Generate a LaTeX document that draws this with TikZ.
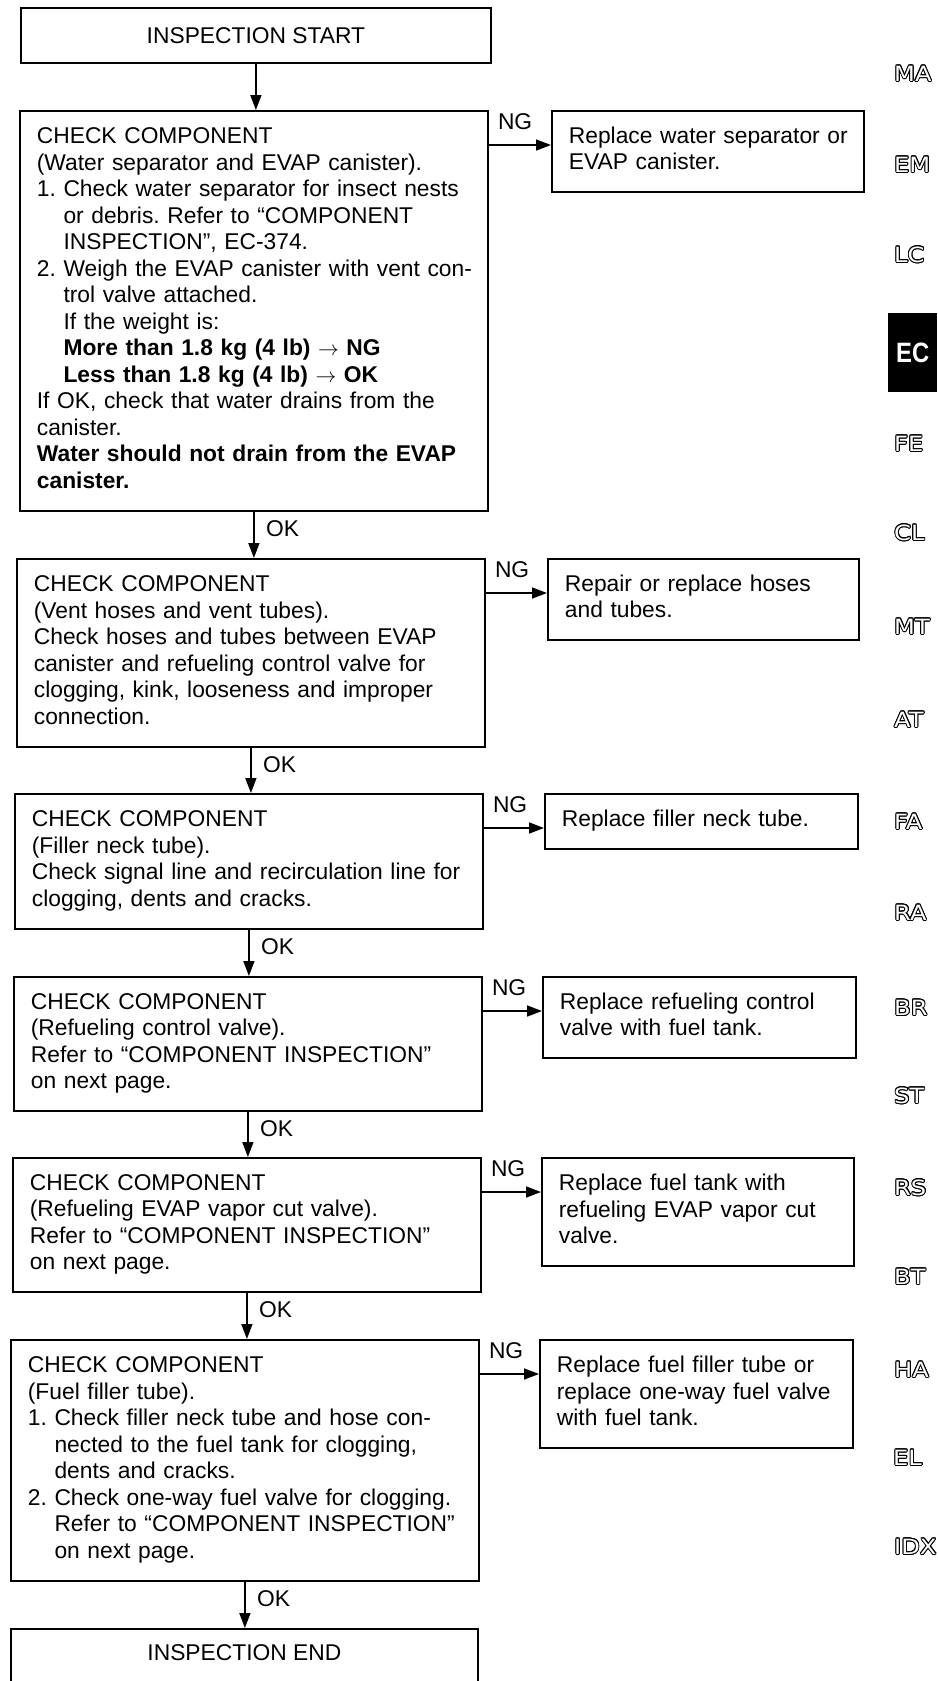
\documentclass[tikz,border=0pt]{standalone}
\usepackage{fontspec}
\setmainfont{Liberation Sans}
\newfontfamily\sidefont{DejaVu Sans}
\usepackage{contour}
\contourlength{0.9pt}
\usetikzlibrary{arrows.meta}
\frenchspacing
\newcommand\bxfont{\fontsize{22.8}{26.5}\selectfont\parindent=0pt\frenchspacing}
\newcommand\sd[1]{{\color{white}\contour{black}{\scalebox{1.15}[1]{#1}}}}
\begin{document}
\begin{tikzpicture}[x=1pt,y=-1pt,
  box/.style={draw, line width=1.8pt, inner xsep=17pt, inner ysep=0pt, anchor=north west, align=left, font=\bxfont},
  arr/.style={line width=1.6pt, -{Triangle[length=15pt,width=11pt]}},
  lbl/.style={font=\bxfont, inner sep=0pt, anchor=base west},
  side/.style={font=\sidefont\fontsize{21}{24}\selectfont, anchor=west, inner sep=0pt},
]
\useasboundingbox (0,0) rectangle (937,1681);

% start
\node[draw, line width=1.8pt, minimum width=470pt, minimum height=55pt, anchor=north west, inner sep=0pt, font=\bxfont] (s) at (20,7) {INSPECTION START};

% main boxes
\node[box, text width=434pt, minimum height=400pt] (b1) at (19,110) {\begin{tabular}{@{}l@{}}
CHECK COMPONENT\\
(Water separator and EVAP canister).\\
1. Check water separator for insect nests\\
\hphantom{1.}\ or debris. Refer to “COMPONENT\\
\hphantom{1.}\ INSPECTION”, EC-374.\\
2. Weigh the EVAP canister with vent con-\\
\hphantom{2.}\ trol valve attached.\\
\hphantom{2.}\ If the weight is:\\
\hphantom{2.}\ \textbf{More than 1.8 kg (4 lb) $\rightarrow$ NG}\\
\hphantom{2.}\ \textbf{Less than 1.8 kg (4 lb) $\rightarrow$ OK}\\
If OK, check that water drains from the\\
canister.\\
\textbf{Water should not drain from the EVAP}\\
\textbf{canister.}
\end{tabular}};

\node[box, text width=434pt, minimum height=188pt] (b2) at (16,558) {\begin{tabular}{@{}l@{}}
CHECK COMPONENT\\
(Vent hoses and vent tubes).\\
Check hoses and tubes between EVAP\\
canister and refueling control valve for\\
clogging, kink, looseness and improper\\
connection.
\end{tabular}};

\node[box, text width=434pt, minimum height=135pt] (b3) at (14,793) {\begin{tabular}{@{}l@{}}
CHECK COMPONENT\\
(Filler neck tube).\\
Check signal line and recirculation line for\\
clogging, dents and cracks.
\end{tabular}};

\node[box, text width=434pt, minimum height=134pt] (b4) at (13,976) {\begin{tabular}{@{}l@{}}
CHECK COMPONENT\\
(Refueling control valve).\\
Refer to “COMPONENT INSPECTION”\\
on next page.
\end{tabular}};

\node[box, text width=434pt, minimum height=134pt] (b5) at (12,1157) {\begin{tabular}{@{}l@{}}
CHECK COMPONENT\\
(Refueling EVAP vapor cut valve).\\
Refer to “COMPONENT INSPECTION”\\
on next page.
\end{tabular}};

\node[box, text width=434pt, minimum height=241pt] (b6) at (10,1339) {\begin{tabular}{@{}l@{}}
CHECK COMPONENT\\
(Fuel filler tube).\\
1. Check filler neck tube and hose con-\\
\hphantom{1.}\ nected to the fuel tank for clogging,\\
\hphantom{1.}\ dents and cracks.\\
2. Check one-way fuel valve for clogging.\\
\hphantom{2.}\ Refer to “COMPONENT INSPECTION”\\
\hphantom{2.}\ on next page.
\end{tabular}};

% end box (open at the bottom of the page)
\node[draw, line width=1.8pt, minimum width=467pt, minimum height=100pt, anchor=north west, inner sep=0pt] (e) at (10,1628) {};
\node[font=\bxfont, inner sep=0pt, anchor=base] (et) at ([yshift=-32pt]e.north) {INSPECTION END};

% replace boxes
\node[box, text width=278pt, minimum height=81pt] (r1) at (551,110) {\begin{tabular}{@{}l@{}}
Replace water separator or\\
EVAP canister.
\end{tabular}};
\node[box, text width=277pt, minimum height=81pt] (r2) at (547,558) {\begin{tabular}{@{}l@{}}
Repair or replace hoses\\
and tubes.
\end{tabular}};
\node[box, text width=279pt, minimum height=55pt] (r3) at (544,793) {\begin{tabular}{@{}l@{}}
Replace filler neck tube.
\end{tabular}};
\node[box, text width=279pt, minimum height=81pt] (r4) at (542,976) {\begin{tabular}{@{}l@{}}
Replace refueling control\\
valve with fuel tank.
\end{tabular}};
\node[box, text width=278pt, minimum height=108pt] (r5) at (541,1157) {\begin{tabular}{@{}l@{}}
Replace fuel tank with\\
refueling EVAP vapor cut\\
valve.
\end{tabular}};
\node[box, text width=279pt, minimum height=108pt] (r6) at (539,1339) {\begin{tabular}{@{}l@{}}
Replace fuel filler tube or\\
replace one-way fuel valve\\
with fuel tank.
\end{tabular}};

% OK connectors
\draw[arr] (s.south) -- (s.south |- b1.north);
\draw[arr] (b1.south) -- (b1.south |- b2.north);
\draw[arr] (b2.south) -- (b2.south |- b3.north);
\draw[arr] (b3.south) -- (b3.south |- b4.north);
\draw[arr] (b4.south) -- (b4.south |- b5.north);
\draw[arr] (b5.south) -- (b5.south |- b6.north);
\draw[arr] (b6.south) -- (b6.south |- e.north);
\node[lbl] (ok1) at ([xshift=12pt,yshift=-25pt]b1.south) {OK};
\node[lbl] (ok2) at ([xshift=12pt,yshift=-25pt]b2.south) {OK};
\node[lbl] (ok3) at ([xshift=12pt,yshift=-25pt]b3.south) {OK};
\node[lbl] (ok4) at ([xshift=12pt,yshift=-25pt]b4.south) {OK};
\node[lbl] (ok5) at ([xshift=12pt,yshift=-25pt]b5.south) {OK};
\node[lbl] (ok6) at ([xshift=12pt,yshift=-25pt]b6.south) {OK};

% NG connectors
\foreach \i in {1,...,6}{
  \coordinate (n\i) at ([yshift=-35pt]b\i.north east);
  \draw[arr] (n\i) -- (n\i -| r\i.west);
  \node[lbl] (ng\i) at ([xshift=9pt,yshift=16pt]n\i) {NG};
}

% side index
\node[side] (sMA) at (894,74) {\sd{MA}};
\node[side] (sEM) at (894,165) {\sd{EM}};
\node[side] (sLC) at (894,255) {\sd{LC}};
\node[fill=black, minimum width=49pt, minimum height=79pt, anchor=north west, inner sep=0pt] (sEC) at (888,313) {};
\node[font=\bfseries\fontsize{28}{30}\selectfont, text=white, inner sep=0pt] (sECt) at (sEC.center) {\scalebox{0.85}[1]{EC}};
\node[side] (sFE) at (894,444) {\sd{FE}};
\node[side] (sCL) at (894,533) {\sd{CL}};
\node[side] (sMT) at (894,627) {\sd{MT}};
\node[side] (sAT) at (894,720) {\sd{AT}};
\node[side] (sFA) at (894,822) {\sd{FA}};
\node[side] (sRA) at (894,913) {\sd{RA}};
\node[side] (sBR) at (894,1008) {\sd{BR}};
\node[side] (sST) at (894,1096) {\sd{ST}};
\node[side] (sRS) at (894,1188) {\sd{RS}};
\node[side] (sBT) at (894,1277) {\sd{BT}};
\node[side] (sHA) at (894,1370) {\sd{HA}};
\node[side] (sEL) at (893,1458) {\sd{EL}};
\node[side] (sIDX) at (894,1547) {\sd{IDX}};
\end{tikzpicture}
\end{document}
